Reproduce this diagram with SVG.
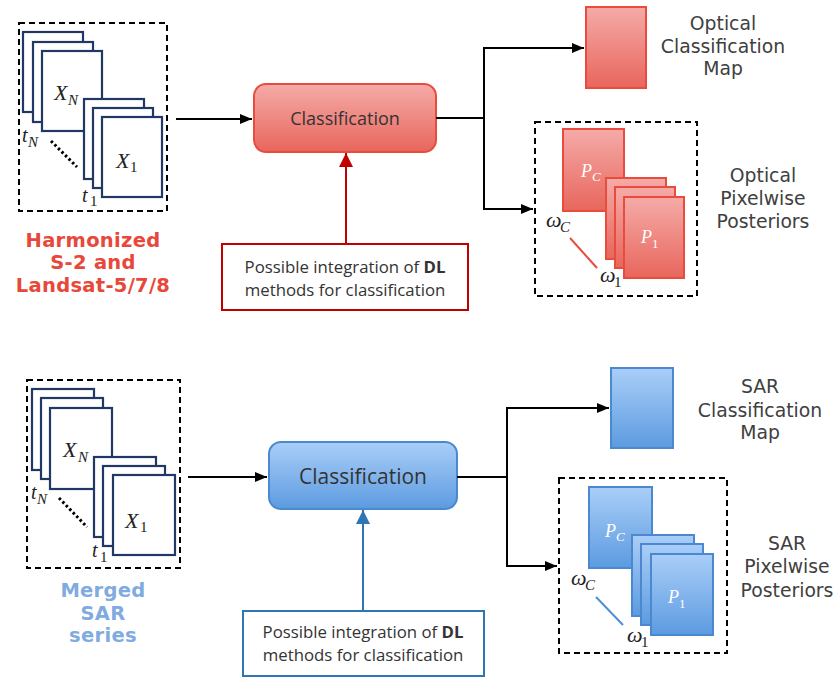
<svg xmlns="http://www.w3.org/2000/svg" width="838" height="677" viewBox="0 0 838 677">
<defs>
<linearGradient id="gRed" x1="0" y1="0" x2="0" y2="1">
<stop offset="0" stop-color="#F5ABA8"/><stop offset="1" stop-color="#E8665C"/>
</linearGradient>
<linearGradient id="gBlue" x1="0" y1="0" x2="0" y2="1">
<stop offset="0" stop-color="#AACEF8"/><stop offset="1" stop-color="#5C9BE0"/>
</linearGradient>
<marker id="ab" viewBox="0 0 12 10" refX="12" refY="5" markerWidth="12" markerHeight="10" markerUnits="userSpaceOnUse" orient="auto">
<path d="M0,0 L12,5 L0,10 Z" fill="#000"/>
</marker>
<marker id="ar" viewBox="0 0 12 12" refX="12" refY="6" markerWidth="14" markerHeight="14" markerUnits="userSpaceOnUse" orient="auto">
<path d="M0,0 L12,6 L0,12 Z" fill="#C00000"/>
</marker>
<marker id="abl" viewBox="0 0 12 12" refX="12" refY="6" markerWidth="14" markerHeight="14" markerUnits="userSpaceOnUse" orient="auto">
<path d="M0,0 L12,6 L0,12 Z" fill="#2E75B6"/>
</marker>
</defs>
<style>
.dash{fill:none;stroke:#000;stroke-width:2;stroke-dasharray:6 4}
.frame{fill:#fff;stroke:#1F3864;stroke-width:2.2}
.red{fill:url(#gRed);stroke:#E94B3C;stroke-width:2}
.blue{fill:url(#gBlue);stroke:#4A89D0;stroke-width:2}
.math{font-family:"Liberation Serif","DejaVu Serif",serif;font-style:italic;fill:#222}
.sub{font-family:"Liberation Serif","DejaVu Serif",serif;fill:#222}
.wm{fill:#fff}
.lbl{font-family:"DejaVu Sans",Verdana,sans-serif;font-size:18.8px;fill:#404040;text-anchor:middle}
.src{font-family:"DejaVu Sans",Verdana,sans-serif;font-weight:bold;font-size:19.5px;text-anchor:middle;letter-spacing:0.3px}
.box{font-family:"Open Sans","Liberation Sans",sans-serif;fill:#333;text-anchor:middle}
.conn{fill:none;stroke:#000;stroke-width:2}
</style>

<!-- ===== TOP ROW ===== -->
<g id="optical-input">
<rect class="dash" x="19" y="23" width="148" height="188"/>
<rect class="frame" x="23" y="32" width="60" height="80"/>
<rect class="frame" x="33" y="42" width="60" height="80"/>
<rect class="frame" x="42" y="51" width="60" height="80"/>
<rect class="frame" x="84" y="99" width="60" height="80"/>
<rect class="frame" x="93" y="108" width="60" height="80"/>
<rect class="frame" x="102" y="117" width="60" height="80"/>
<text class="math" x="54" y="100" font-size="22">X</text><text class="math" x="68" y="105" font-size="15">N</text>
<text class="math" x="116" y="168" font-size="22">X</text><text class="sub" x="130" y="172" font-size="15">1</text>
<text class="math" x="22" y="142" font-size="20">t</text><text class="math" x="28" y="147" font-size="15">N</text>
<text class="math" x="82" y="202" font-size="20">t</text><text class="sub" x="90" y="206" font-size="15">1</text>
<line x1="51" y1="141" x2="77" y2="167" stroke="#000" stroke-width="3" stroke-dasharray="2.5 2.5"/>
<text class="src" fill="#E8483A"><tspan x="93" y="247">Harmonized</tspan><tspan x="93" y="269">S-2 and</tspan><tspan x="93" y="292">Landsat-5/7/8</tspan></text>
</g>

<g id="optical-classification">
<rect class="red" x="254" y="84" width="182" height="68" rx="12"/>
<text class="box" x="345" y="125" font-size="18">Classification</text>
</g>

<g id="optical-dl">
<rect x="222" y="244" width="246" height="66" fill="#fff" stroke="#C00000" stroke-width="2"/>
<text class="box" font-size="16.8"><tspan x="345" y="273">Possible integration of <tspan font-weight="bold">DL</tspan></tspan><tspan x="345" y="296">methods for classification</tspan></text>
</g>

<g id="optical-map">
<rect class="red" x="586" y="7" width="60" height="81"/>
<text class="lbl"><tspan x="723" y="30">Optical</tspan><tspan x="723" y="53">Classification</tspan><tspan x="723" y="75">Map</tspan></text>
</g>

<g id="optical-posteriors">
<rect class="dash" x="535" y="122" width="162" height="174"/>
<rect class="red" x="563" y="129" width="61" height="82"/>
<rect class="red" x="606" y="178" width="60" height="81"/>
<rect class="red" x="615" y="187" width="60" height="81"/>
<rect class="red" x="624" y="197" width="60" height="81"/>
<text class="math wm" x="581" y="177" font-size="18">P</text><text class="math wm" x="592" y="181" font-size="13">C</text>
<text class="math wm" x="641" y="243" font-size="18">P</text><text class="sub wm" x="652" y="248" font-size="13">1</text>
<text class="math" x="546" y="227" font-size="22">ω</text><text class="math" x="560" y="232" font-size="15">C</text>
<text class="math" x="600" y="282" font-size="22">ω</text><text class="sub" x="614" y="287" font-size="15">1</text>
<line x1="570" y1="238" x2="597" y2="268" stroke="#E84C3D" stroke-width="2"/>
<text class="lbl"><tspan x="763" y="182">Optical</tspan><tspan x="763" y="205">Pixelwise</tspan><tspan x="763" y="228">Posteriors</tspan></text>
</g>

<!-- ===== BOTTOM ROW ===== -->
<g id="sar-input">
<rect class="dash" x="27" y="380" width="153" height="188"/>
<rect class="frame" x="32" y="389" width="62" height="81"/>
<rect class="frame" x="41" y="398" width="62" height="81"/>
<rect class="frame" x="50" y="408" width="62" height="81"/>
<rect class="frame" x="94" y="457" width="62" height="80"/>
<rect class="frame" x="103" y="466" width="62" height="80"/>
<rect class="frame" x="113" y="475" width="62" height="80"/>
<text class="math" x="63" y="457" font-size="22">X</text><text class="math" x="78" y="462" font-size="15">N</text>
<text class="math" x="125" y="528" font-size="22">X</text><text class="sub" x="140" y="532" font-size="15">1</text>
<text class="math" x="31" y="499" font-size="20">t</text><text class="math" x="37" y="504" font-size="15">N</text>
<text class="math" x="92" y="557" font-size="20">t</text><text class="sub" x="100" y="562" font-size="15">1</text>
<line x1="59" y1="498" x2="87" y2="527" stroke="#000" stroke-width="3" stroke-dasharray="2.5 2.5"/>
<text class="src" fill="#80ABE0"><tspan x="103" y="597">Merged</tspan><tspan x="103" y="620">SAR</tspan><tspan x="103" y="642">series</tspan></text>
</g>

<g id="sar-classification">
<rect class="blue" x="269" y="442" width="188" height="67" rx="12"/>
<text class="box" x="363" y="484" font-size="21">Classification</text>
</g>

<g id="sar-dl">
<rect x="243" y="611" width="241" height="65" fill="#fff" stroke="#2E75B6" stroke-width="2"/>
<text class="box" font-size="16.8"><tspan x="363" y="638">Possible integration of <tspan font-weight="bold">DL</tspan></tspan><tspan x="363" y="661">methods for classification</tspan></text>
</g>

<g id="sar-map">
<rect class="blue" x="611" y="368" width="62" height="80"/>
<text class="lbl"><tspan x="760" y="393">SAR</tspan><tspan x="760" y="417">Classification</tspan><tspan x="760" y="439">Map</tspan></text>
</g>

<g id="sar-posteriors">
<rect class="dash" x="559" y="478" width="168" height="175"/>
<rect class="blue" x="589" y="487" width="63" height="81"/>
<rect class="blue" x="632" y="535" width="62" height="81"/>
<rect class="blue" x="641" y="544" width="62" height="81"/>
<rect class="blue" x="651" y="554" width="62" height="81"/>
<text class="math wm" x="605" y="537" font-size="18">P</text><text class="math wm" x="616" y="541" font-size="13">C</text>
<text class="math wm" x="668" y="603" font-size="18">P</text><text class="sub wm" x="679" y="608" font-size="13">1</text>
<text class="math" x="571" y="585" font-size="22">ω</text><text class="math" x="585" y="590" font-size="15">C</text>
<text class="math" x="627" y="642" font-size="22">ω</text><text class="sub" x="641" y="647" font-size="15">1</text>
<line x1="596" y1="597" x2="623" y2="625" stroke="#4F8FD6" stroke-width="2"/>
<text class="lbl"><tspan x="787" y="550">SAR</tspan><tspan x="787" y="573">Pixelwise</tspan><tspan x="787" y="597">Posteriors</tspan></text>
</g>

<!-- ===== CONNECTORS ===== -->
<g id="connectors">
<line class="conn" x1="176" y1="119" x2="252" y2="119" marker-end="url(#ab)"/>
<line x1="346" y1="244" x2="346" y2="153" stroke="#C00000" stroke-width="2" marker-end="url(#ar)"/>
<polyline class="conn" points="436,118 484,118" stroke-width="3"/>
<polyline class="conn" points="583,48 484,48 484,209 533,209" marker-end="url(#ab)"/>
<line class="conn" x1="484" y1="48" x2="584" y2="48" marker-end="url(#ab)"/>

<line class="conn" x1="188" y1="477" x2="267" y2="477" marker-end="url(#ab)"/>
<line x1="363" y1="611" x2="363" y2="510" stroke="#2E75B6" stroke-width="2" marker-end="url(#abl)"/>
<polyline class="conn" points="457,477 507,477"/>
<polyline class="conn" points="608,408 507,408 507,566 557,566" marker-end="url(#ab)"/>
<line class="conn" x1="507" y1="408" x2="609" y2="408" marker-end="url(#ab)"/>
</g>
</svg>
